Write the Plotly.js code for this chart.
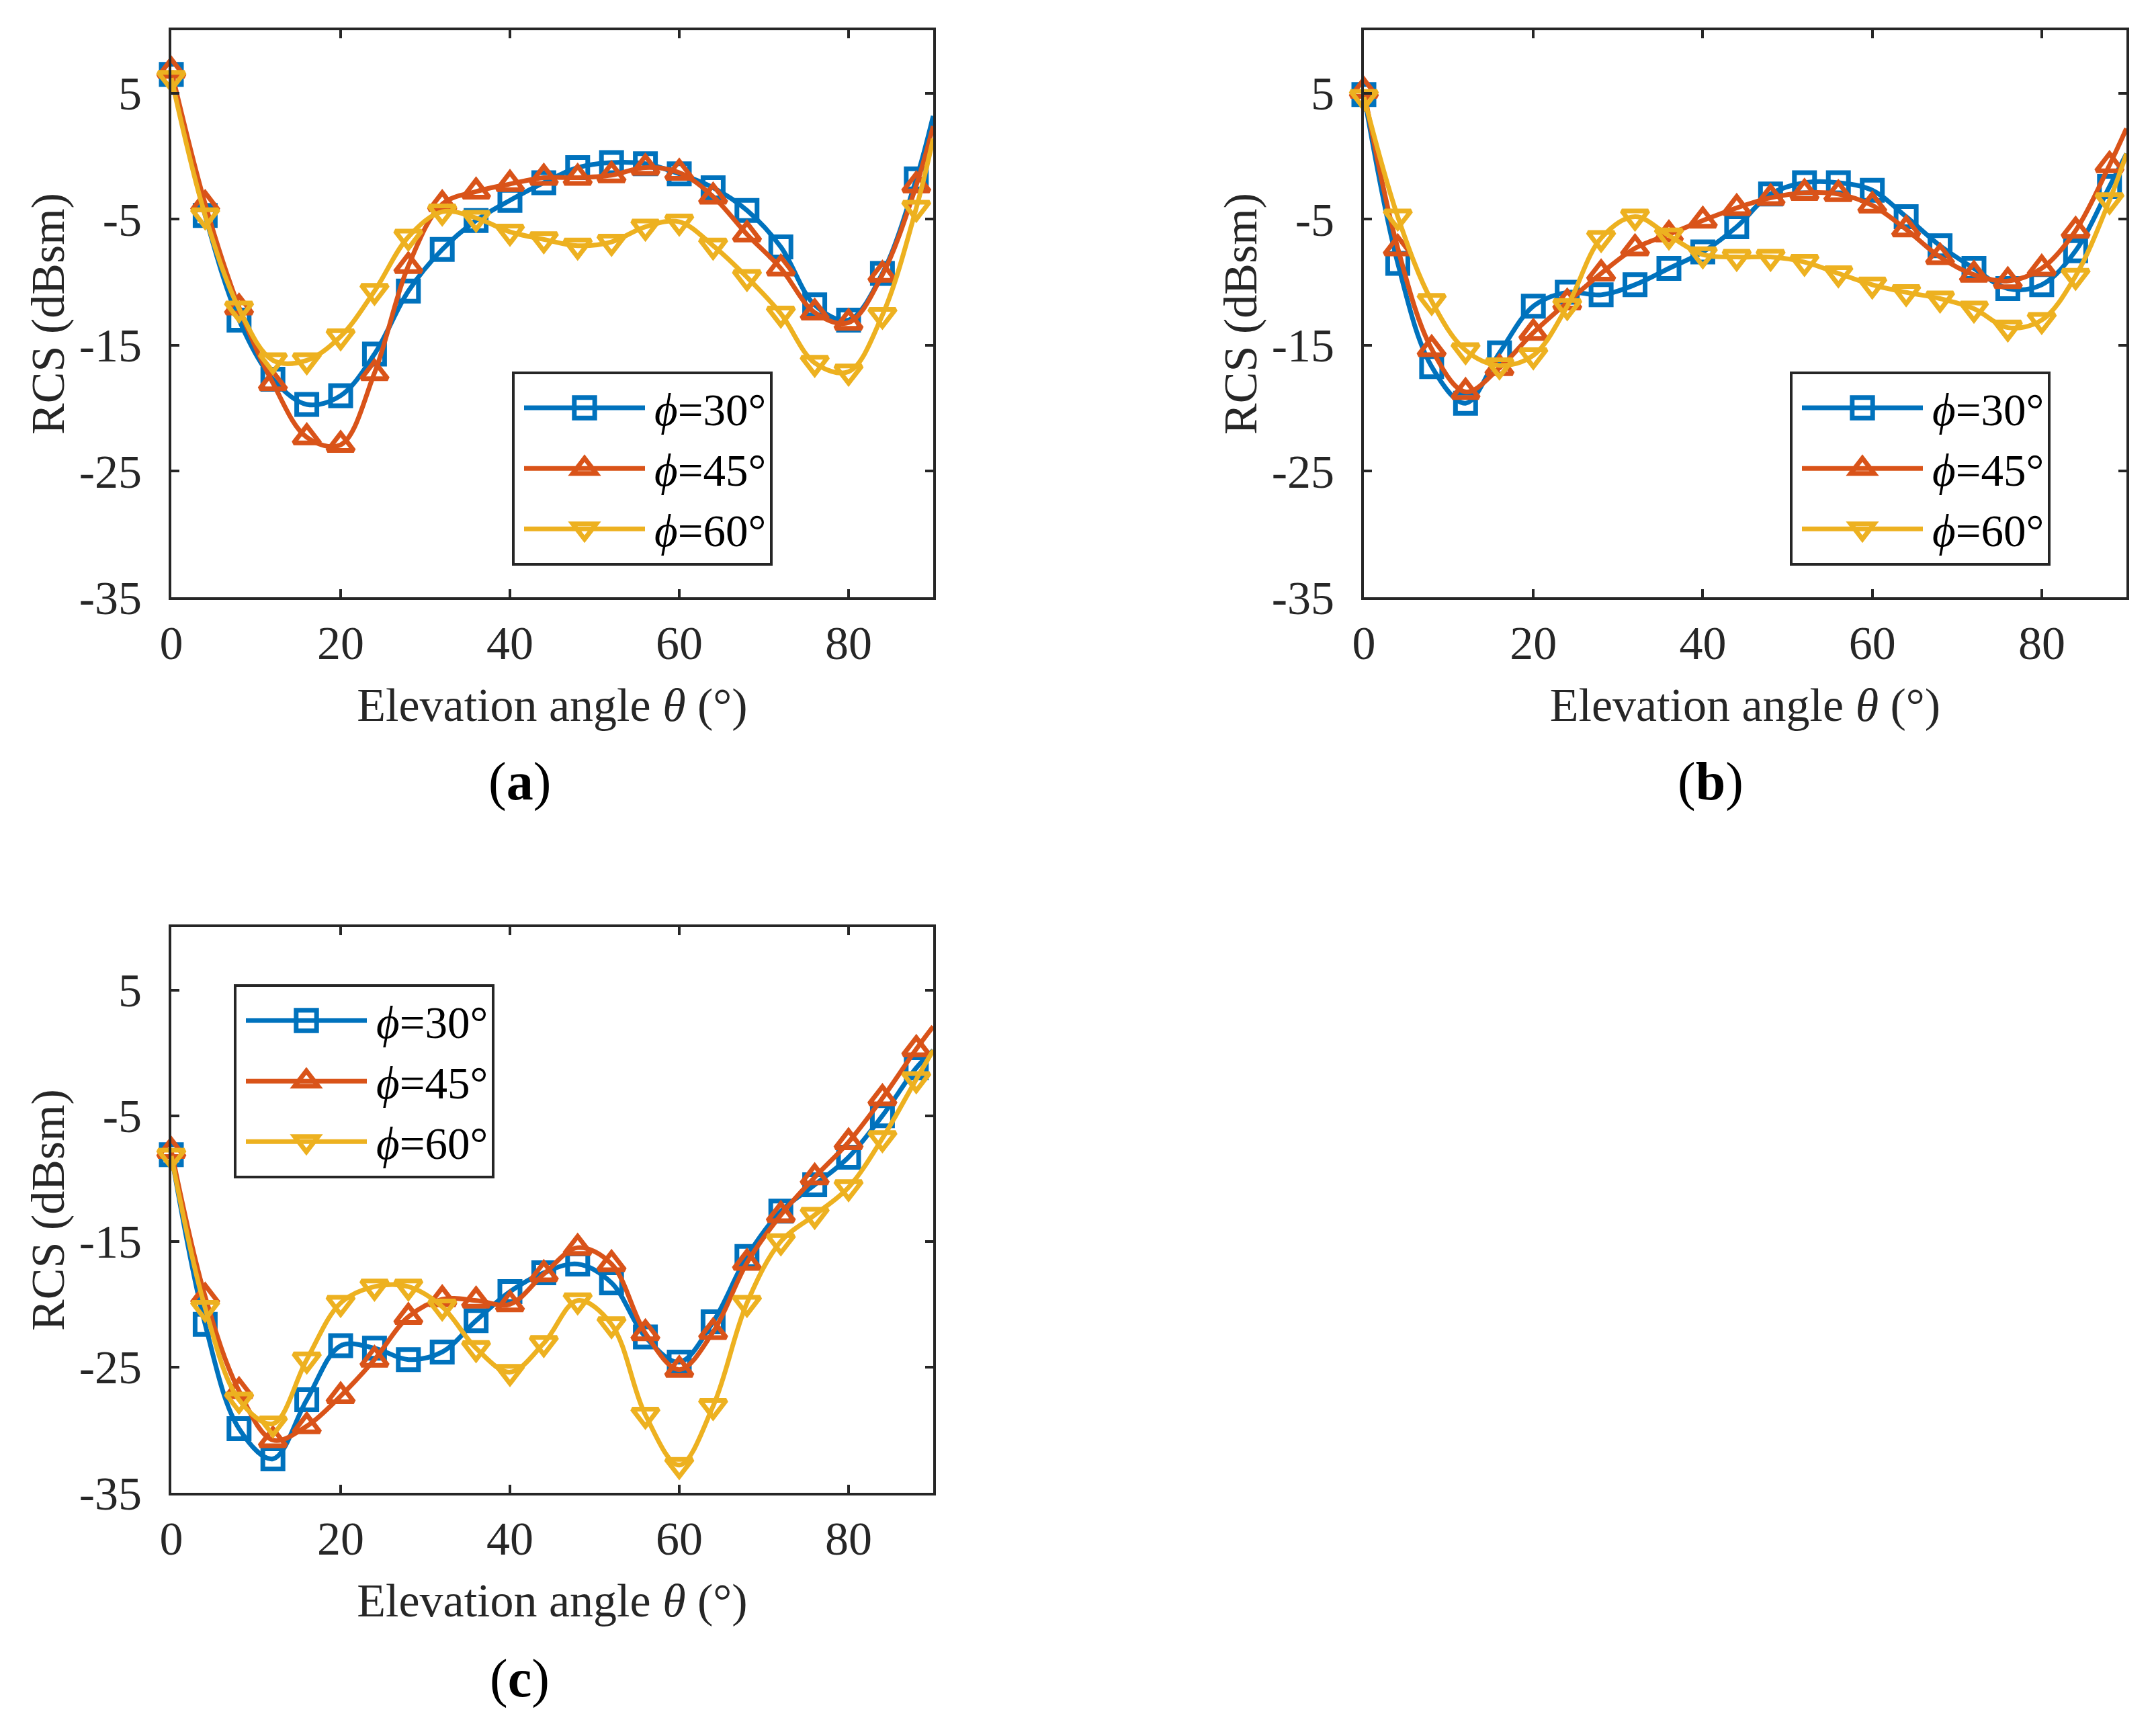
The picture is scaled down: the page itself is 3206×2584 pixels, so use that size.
<!DOCTYPE html>
<html>
<head>
<meta charset="utf-8">
<script src="https://cdn.plot.ly/plotly-3.0.1.min.js"></script>
<style>
  html, body { margin: 0; padding: 0; background: #fff; }
  #fig { width: 3206px; height: 2584px; }
</style>
</head>
<body>
<div id="fig"></div>
<script>
// elevation angle samples; markers on every point except the last (90)
const THETA = [0, 4, 8, 12, 16, 20, 24, 28, 32, 36, 40, 44, 48, 52, 56, 60, 64, 68, 72, 76, 80, 84, 88, 90];

const SERIES_NAMES = ['<i>ϕ</i>=30°', '<i>ϕ</i>=45°', '<i>ϕ</i>=60°'];
const PANEL_LABELS = ['(<b>a</b>)', '(<b>b</b>)', '(<b>c</b>)'];

const X_TICKS = [0, 20, 40, 60, 80];
const Y_TICKS = [5, -5, -15, -25, -35];
const Y_TICKTEXT = ['5', '-5', '-15', '-25', '-35'];

// panel (a)
const A_PHI30 = [6.5, -4.7, -13.0, -17.7, -19.7, -19.0, -15.7, -10.7, -7.4, -5.1, -3.5, -2.1, -0.9, -0.5, -0.6, -1.4, -2.5, -4.3, -7.2, -11.8, -13.0, -9.3, -1.8, 3.2];
const A_PHI45 = [6.8, -3.8, -12.0, -18.0, -22.3, -22.9, -17.2, -8.7, -3.8, -2.8, -2.2, -1.7, -1.7, -1.5, -0.9, -1.3, -3.2, -6.2, -8.9, -12.4, -13.2, -9.4, -2.3, 2.4];
const A_PHI60 = [6.2, -4.7, -12.1, -16.2, -16.2, -14.3, -10.7, -6.4, -4.4, -4.9, -6.0, -6.6, -7.1, -6.8, -5.6, -5.2, -7.1, -9.6, -12.5, -16.4, -17.1, -12.6, -4.1, 1.4];

// panel (b)
const B_PHI30 = [4.9, -8.5, -16.7, -19.6, -15.6, -11.9, -10.8, -11.0, -10.2, -8.9, -7.6, -5.6, -3.0, -2.1, -2.1, -2.7, -4.8, -7.1, -8.9, -10.5, -10.2, -7.5, -2.4, 0.2];
const B_PHI45 = [5.2, -7.3, -15.3, -18.7, -16.8, -14.0, -11.6, -9.3, -7.3, -6.2, -5.1, -4.1, -3.3, -2.9, -3.0, -3.9, -5.8, -8.0, -9.4, -9.9, -8.9, -5.9, -0.7, 2.2];
const B_PHI60 = [4.7, -4.8, -11.5, -15.4, -16.6, -15.8, -11.9, -6.5, -4.8, -6.3, -7.8, -8.0, -8.0, -8.4, -9.3, -10.2, -10.8, -11.3, -12.1, -13.6, -13.0, -9.5, -3.5, 0.2];

// panel (c)
const C_PHI30 = [-8.1, -21.6, -29.9, -32.3, -27.6, -23.3, -23.5, -24.4, -23.8, -21.3, -19.0, -17.5, -16.8, -18.3, -22.6, -24.6, -21.4, -16.2, -12.6, -10.5, -8.3, -5.0, -1.2, 0.2];
const C_PHI45 = [-7.8, -19.4, -26.9, -30.8, -29.7, -27.3, -24.4, -21.0, -19.6, -19.7, -20.0, -17.6, -15.5, -16.8, -22.3, -25.2, -22.2, -16.7, -12.9, -9.9, -7.1, -3.6, 0.3, 2.1];
const C_PHI60 = [-8.2, -20.3, -27.6, -29.5, -24.4, -19.9, -18.6, -18.6, -20.2, -23.5, -25.4, -23.1, -19.7, -21.6, -28.8, -32.8, -28.1, -19.9, -15.0, -12.9, -10.7, -6.8, -2.1, 0.2];

const COLORS = ['#0072BD', '#D95319', '#EDB120'];
const SYMBOLS = ['square-open', 'triangle-up-open', 'triangle-down-open'];
const MSIZE = [30, 34, 34];
const AXC = '#262626';
const FONT = 'Liberation Serif';

const panels = [
  {ax: '', leg: 'legend', data: [A_PHI30, A_PHI45, A_PHI60]},
  {ax: '2', leg: 'legend2', data: [B_PHI30, B_PHI45, B_PHI60]},
  {ax: '3', leg: 'legend3', data: [C_PHI30, C_PHI45, C_PHI60]},
];

const traces = [];
panels.forEach(p => {
  p.data.forEach((ys, i) => {
    traces.push({
      type: 'scatter', mode: 'lines+markers', cliponaxis: false,
      x: THETA, y: ys, name: SERIES_NAMES[i],
      xaxis: 'x' + p.ax, yaxis: 'y' + p.ax, legend: p.leg,
      line: {color: COLORS[i], width: 7, shape: 'spline', smoothing: 1},
      marker: {
        symbol: SYMBOLS[i], color: COLORS[i], opacity: 1,
        size: THETA.map(t => t === 90 ? 0 : MSIZE[i]),
        line: {width: 7, color: COLORS[i]},
      },
    });
  });
});

const xBase = () => ({
  range: [0, 90], tickvals: X_TICKS, showgrid: false, zeroline: false,
  showline: true, mirror: 'ticks', linecolor: AXC, linewidth: 4,
  ticks: 'inside', ticklen: 12, tickwidth: 4, tickcolor: AXC,
  tickfont: {family: FONT, size: 70, color: AXC}, ticklabelstandoff: 4,
  title: {text: 'Elevation angle <i>θ</i> (°)', font: {family: FONT, size: 70, color: AXC}, standoff: 30},
});
const yBase = () => ({
  range: [-35, 10], tickvals: Y_TICKS, ticktext: Y_TICKTEXT, showgrid: false, zeroline: false,
  showline: true, mirror: 'ticks', linecolor: AXC, linewidth: 4,
  ticks: 'inside', ticklen: 12, tickwidth: 4, tickcolor: AXC,
  tickfont: {family: FONT, size: 70, color: AXC}, ticklabelstandoff: 26,
  title: {text: 'RCS (dBsm)', font: {family: FONT, size: 70, color: AXC}, standoff: 0},
});
const legBase = (x, y) => ({
  x: x, y: y, xanchor: 'left', yanchor: 'top', itemwidth: 198,
  bgcolor: '#ffffff', bordercolor: AXC, borderwidth: 4,
  font: {family: FONT, size: 67, color: '#000'},
});

const W = 3206, H = 2584;
const DX_LEFT = [255 / W, 1389 / W];
const DX_RIGHT = [2030 / W, 3165 / W];
const DY_TOP = [1 - 889 / H, 1 - 45 / H];
const DY_BOT = [1 - 2222 / H, 1 - 1380 / H];

const layout = {
  width: W, height: H,
  margin: {l: 0, r: 0, t: 0, b: 0},
  paper_bgcolor: '#fff', plot_bgcolor: '#fff',
  font: {family: FONT, size: 70, color: AXC},
  showlegend: true,
  xaxis: {...xBase(), domain: DX_LEFT, anchor: 'y'},
  yaxis: {...yBase(), domain: DY_TOP, anchor: 'x'},
  xaxis2: {...xBase(), domain: DX_RIGHT, anchor: 'y2'},
  yaxis2: {...yBase(), domain: DY_TOP, anchor: 'x2'},
  xaxis3: {...xBase(), domain: DX_LEFT, anchor: 'y3'},
  yaxis3: {...yBase(), domain: DY_BOT, anchor: 'x3'},
  legend: legBase(762 / W, 1 - 553 / H),
  legend2: legBase(2664 / W, 1 - 553 / H),
  legend3: legBase(348 / W, 1 - 1465 / H),
  annotations: [
    {text: PANEL_LABELS[0], x: 773 / W, y: 1 - 1163 / H},
    {text: PANEL_LABELS[1], x: 2546 / W, y: 1 - 1163 / H},
    {text: PANEL_LABELS[2], x: 773 / W, y: 1 - 2498 / H},
  ].map(a => ({...a, xref: 'paper', yref: 'paper', xanchor: 'center', yanchor: 'middle',
    showarrow: false, font: {family: FONT, size: 80, color: '#000'}})),
};

Plotly.newPlot('fig', traces, layout, {staticPlot: true, displayModeBar: false}).then(gd => {
  // stretch the legend keys to the long MATLAB-style sample line with a centred marker
  gd.querySelectorAll('.legend .traces, .legend2 .traces, .legend3 .traces').forEach(tr => {
    tr.querySelectorAll('.legendlines path').forEach(p => p.setAttribute('d', 'M14,0h180'));
    tr.querySelectorAll('.legendpoints path.scatterpts').forEach(p => {
      p.setAttribute('transform', 'translate(104,0) scale(1.9)');
      p.style.strokeWidth = (7 / 1.9) + 'px';
      p.style.opacity = 1;
    });
  });
});
</script>
</body>
</html>
